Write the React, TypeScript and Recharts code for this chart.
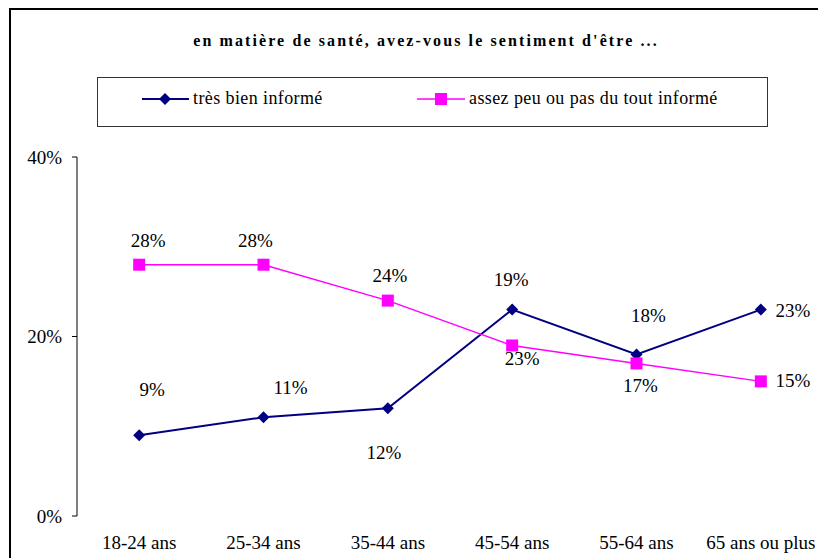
import { LineChart, Line, XAxis, YAxis, Legend, LabelList } from 'recharts';

// values
const categories = ['18-24 ans', '25-34 ans', '35-44 ans', '45-54 ans', '55-64 ans', '65 ans ou plus'];
const tresBien = [9, 11, 12, 23, 18, 23];
const assezPeu = [28, 28, 24, 19, 17, 15];
// the printed labels (as on the original, not always equal to the values)
const tresBienLabels = ['9%', '11%', '12%', '19%', '18%', '23%'];
const assezPeuLabels = ['28%', '28%', '24%', '23%', '17%', '15%'];
const yTicks = [0, 20, 40];
const boundaryTicks = [0, 1, 2, 3, 4, 5, 6];

const NAVY = '#000080';
const MAGENTA = '#FF00FF';
const FONT = "'Liberation Serif', 'Times New Roman', serif";

// label placement relative to the point (dx, dy)
const navyLabelOffset = [[13, -46], [27, -30], [-4, 44], [-1, -30], [12, -39], [32, 1]];
const magentaLabelOffset = [[9, -24], [-8, -24], [2, -25], [10, 13], [4, 22], [32, -1]];

const data = categories.map((cat, i) => ({
  cat,
  tresBien: tresBien[i],
  assezPeu: assezPeu[i],
  tresBienLabel: tresBienLabels[i],
  assezPeuLabel: assezPeuLabels[i],
}));

const Diamond = (props: any) => {
  const { cx, cy } = props;
  if (cx == null || cy == null) return null;
  const r = 6;
  return (
    <polygon
      points={`${cx},${cy - r} ${cx + r},${cy} ${cx},${cy + r} ${cx - r},${cy}`}
      fill={NAVY}
    />
  );
};

const Square = (props: any) => {
  const { cx, cy } = props;
  if (cx == null || cy == null) return null;
  const s = 12;
  return <rect x={cx - s / 2} y={cy - s / 2} width={s} height={s} fill={MAGENTA} />;
};

const makeLabel = (offsets: number[][]) => (props: any) => {
  const { x, y, value, index } = props;
  const [dx, dy] = offsets[index] || [0, -20];
  return (
    <text
      x={x + dx}
      y={y + dy}
      textAnchor="middle"
      dominantBaseline="central"
      fontFamily={FONT}
      fontSize={19}
      fill="#000"
    >
      {value}
    </text>
  );
};

const LegendBox = () => (
  <div
    style={{
      position: 'relative',
      width: 671,
      height: 50,
      boxSizing: 'border-box',
      border: '1.5px solid #333',
      fontFamily: FONT,
      fontSize: 18,
      letterSpacing: 0.4,
      color: '#000',
      background: '#fff',
    }}
  >
    <svg width={671} height={50} style={{ position: 'absolute', left: 0, top: 0 }}>
      <line x1={44} x2={91} y1={21} y2={21} stroke={NAVY} strokeWidth={2} />
      <Diamond cx={67} cy={21} />
      <line x1={319} x2={367} y1={21} y2={21} stroke={MAGENTA} strokeWidth={1.5} />
      <Square cx={343} cy={21} />
    </svg>
    <span style={{ position: 'absolute', left: 95, top: 10, lineHeight: '20px' }}>très bien informé</span>
    <span style={{ position: 'absolute', left: 371, top: 10, lineHeight: '20px' }}>
      assez peu ou pas du tout informé
    </span>
  </div>
);

export default function App() {
  return (
    <div
      style={{
        position: 'fixed',
        left: 0,
        top: 0,
        width: 818,
        height: 558,
        overflow: 'hidden',
        background: '#fff',
      }}
    >
      <div
        style={{
          position: 'absolute',
          left: 9,
          top: 8,
          width: 840,
          height: 600,
          border: '2px solid #000',
        }}
      >
        <div
          style={{
            position: 'absolute',
            left: -11,
            top: 23,
            width: 852,
            textAlign: 'center',
            fontFamily: FONT,
            fontWeight: 'bold',
            fontSize: 16,
            letterSpacing: 2.1,
            lineHeight: '16px',
            color: '#000',
          }}
        >
          en matière de santé, avez-vous le sentiment d'être ...
        </div>
        <LineChart
          width={830}
          height={600}
          data={data}
          margin={{ top: 147, right: 18, left: 0, bottom: 54 }}
        >
          <XAxis
            xAxisId="bounds"
            type="number"
            domain={[0, 6]}
            ticks={boundaryTicks}
            allowDataOverflow
            tick={false}
            tickSize={6}
            height={0}
            axisLine={{ stroke: '#000', strokeWidth: 1 }}
            tickLine={{ stroke: '#000', strokeWidth: 1 }}
          />
          <XAxis
            xAxisId="cat"
            dataKey="cat"
            scale="band"
            axisLine={false}
            tickLine={false}
            tickSize={6}
            tickMargin={14}
            height={40}
            interval={0}
            tick={{ fontFamily: FONT, fontSize: 19, fill: '#000' }}
          />
          <YAxis
            domain={[0, 40]}
            ticks={yTicks}
            width={66}
            tickSize={5}
            tickMargin={10}
            tickFormatter={(v) => `${v}%`}
            axisLine={{ stroke: '#000', strokeWidth: 1 }}
            tickLine={{ stroke: '#000', strokeWidth: 1 }}
            tick={{ fontFamily: FONT, fontSize: 19, fill: '#000' }}
          />
          <Legend
            layout="horizontal"
            verticalAlign="middle"
            align="center"
            wrapperStyle={{ left: 86, top: 67, width: 671, height: 50 }}
            content={() => <LegendBox />}
          />
          <Line
            xAxisId="cat"
            dataKey="tresBien"
            name="très bien informé"
            stroke={NAVY}
            strokeWidth={2}
            dot={<Diamond />}
            activeDot={false}
            isAnimationActive={false}
          >
            <LabelList dataKey="tresBienLabel" content={makeLabel(navyLabelOffset)} />
          </Line>
          <Line
            xAxisId="cat"
            dataKey="assezPeu"
            name="assez peu ou pas du tout informé"
            stroke={MAGENTA}
            strokeWidth={1.5}
            dot={<Square />}
            activeDot={false}
            isAnimationActive={false}
          >
            <LabelList dataKey="assezPeuLabel" content={makeLabel(magentaLabelOffset)} />
          </Line>
        </LineChart>
      </div>
    </div>
  );
}
